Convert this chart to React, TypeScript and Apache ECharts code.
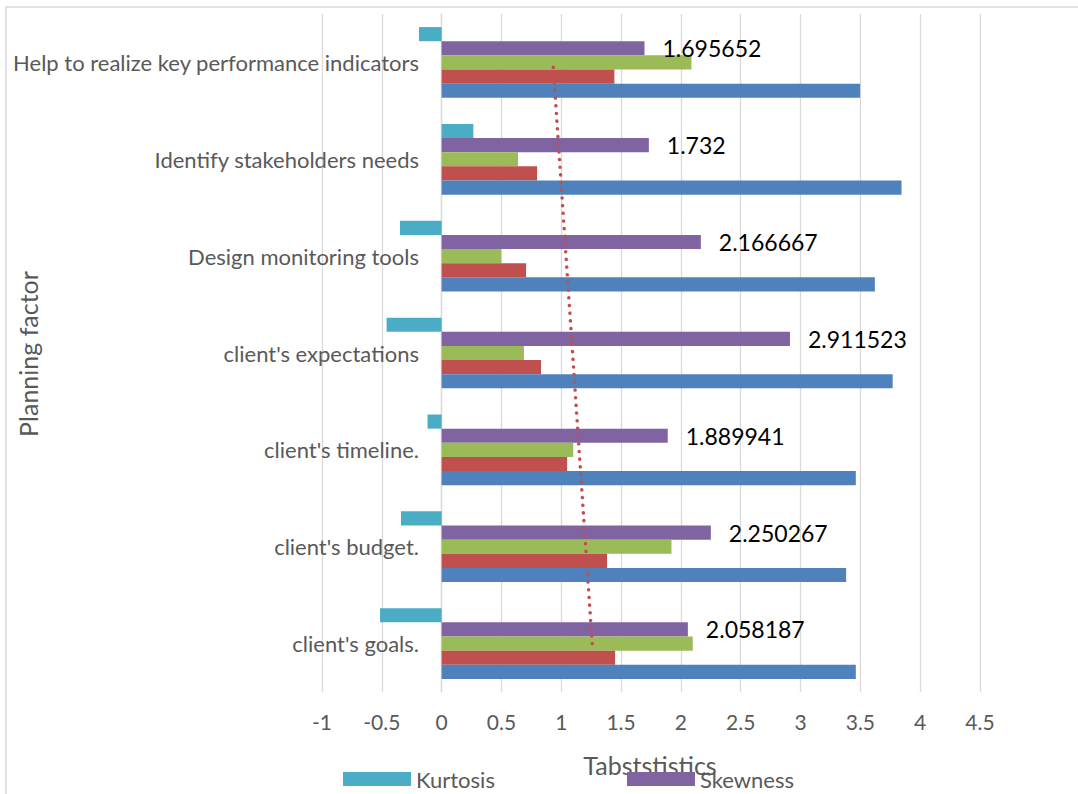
import React, { useEffect, useRef } from "react";
import * as echarts from "echarts";

// Categories, bottom to top (as drawn on the category axis)
const categories = [
  "client's goals.",
  "client's budget.",
  "client's timeline.",
  "client's expectations",
  "Design monitoring tools",
  "Identify stakeholders needs",
  "Help to realize key performance indicators",
];

const meanValues = [3.462, 3.381, 3.462, 3.77, 3.621, 3.844, 3.498];
const stdDevValues = [1.45, 1.383, 1.049, 0.831, 0.706, 0.798, 1.444];
const varianceValues = [2.099, 1.921, 1.1, 0.688, 0.497, 0.639, 2.088];
const skewnessValues = [2.058187, 2.250267, 1.889941, 2.911523, 2.166667, 1.732, 1.695652];
const kurtosisValues = [-0.515, -0.34, -0.118, -0.46, -0.348, 0.265, -0.189];

const xTicks = { min: -1, max: 4.5, interval: 0.5 };

const FONT = "Lato";
const GREY = "#595959";
const GRID = "#d9d9d9";

// Excel-style linear trendline of the Std. Deviation series
function linearTrend(values: number[]): number[] {
  const n = values.length;
  const xs = values.map((_, i) => i + 1);
  const mx = xs.reduce((a, b) => a + b, 0) / n;
  const my = values.reduce((a, b) => a + b, 0) / n;
  let num = 0;
  let den = 0;
  xs.forEach((x, i) => {
    num += (x - mx) * (values[i] - my);
    den += (x - mx) * (x - mx);
  });
  const slope = num / den;
  return xs.map((x) => my + slope * (x - mx));
}

export default function App() {
  const ref = useRef<HTMLDivElement>(null);

  useEffect(() => {
    if (!ref.current) return;
    const chart = echarts.init(ref.current, undefined, { renderer: "svg" });
    const trend = linearTrend(stdDevValues);

    const barBase = {
      type: "bar",
      barGap: "0%",
      barCategoryGap: "27%",
    };

    chart.setOption({
      animation: false,
      backgroundColor: "#ffffff",
      grid: {
        left: 322,
        right: 98,
        top: 14,
        bottom: 102,
        containLabel: false,
        outerBoundsMode: "none",
      },
      xAxis: {
        type: "value",
        min: xTicks.min,
        max: xTicks.max,
        interval: xTicks.interval,
        axisLine: { show: false },
        axisTick: { show: false },
        splitLine: { show: true, lineStyle: { color: GRID, width: 1.3 } },
        axisLabel: { fontFamily: FONT, fontSize: 21, color: GREY, margin: 19 },
      },
      yAxis: {
        type: "category",
        data: categories,
        axisLine: { show: true, onZero: true, lineStyle: { color: GRID, width: 1.3 } },
        axisTick: { show: false },
        splitLine: { show: false },
        axisLabel: { fontFamily: FONT, fontSize: 22, color: GREY, margin: -97, padding: [3, 0, 0, 0] },
      },
      legend: [
        {
          left: 338,
          top: 763,
          data: ["Kurtosis"],
          icon: "rect",
          itemWidth: 68,
          itemHeight: 14,
          itemGap: 8,
          textStyle: { fontFamily: FONT, fontSize: 22, color: GREY, padding: [0, 0, 0, 0] },
          selectedMode: false,
          z: 5,
        },
        {
          left: 622,
          top: 763,
          data: ["Skewness"],
          icon: "rect",
          itemWidth: 68,
          itemHeight: 14,
          itemGap: 8,
          textStyle: { fontFamily: FONT, fontSize: 22, color: GREY, padding: [0, 0, 0, 0] },
          selectedMode: false,
          z: 5,
        },
      ],
      graphic: [
        {
          type: "rect",
          shape: { x: 6, y: 7, width: 1300, height: 1000 },
          style: { fill: "none", stroke: GRID, lineWidth: 1.5 },
          silent: true,
          z: 0,
        },
        {
          type: "text",
          x: 28,
          y: 354,
          rotation: Math.PI / 2,
          style: {
            text: "Planning factor",
            fontFamily: FONT,
            fontSize: 25,
            fill: GREY,
            align: "center",
            verticalAlign: "middle",
          },
          z: 1,
        },
        {
          type: "text",
          x: 650,
          y: 765,
          style: {
            text: "Tabststistics",
            fontFamily: FONT,
            fontSize: 25,
            fill: GREY,
            align: "center",
            verticalAlign: "middle",
          },
          z: 1,
        },
      ],
      series: [
        { ...barBase, name: "Kurtosis", data: kurtosisValues, itemStyle: { color: "#4bacc6" } },
        {
          ...barBase,
          name: "Skewness",
          data: skewnessValues,
          itemStyle: { color: "#8064a2" },
          label: {
            show: true,
            position: "right",
            distance: 18,
            fontFamily: FONT,
            fontSize: 23,
            color: "#000000",
            formatter: (p: any) => String(p.value),
          },
        },
        { ...barBase, name: "Variance", data: varianceValues, itemStyle: { color: "#9bbb59" } },
        { ...barBase, name: "Std. Deviation", data: stdDevValues, itemStyle: { color: "#c0504d" } },
        { ...barBase, name: "Mean", data: meanValues, itemStyle: { color: "#4f81bd" } },
        {
          type: "line",
          name: "Linear (Std. Deviation)",
          data: trend.map((v, i) => [v, i]),
          symbol: "none",
          z: 5,
          lineStyle: { color: "#c0504d", width: 3.5, type: [0.1, 7.6], cap: "round" },
        },
      ],
    });

    return () => chart.dispose();
  }, []);

  return (
    <div
      ref={ref}
      style={{ position: "fixed", left: 0, top: 0, width: 1078, height: 794 }}
    />
  );
}
